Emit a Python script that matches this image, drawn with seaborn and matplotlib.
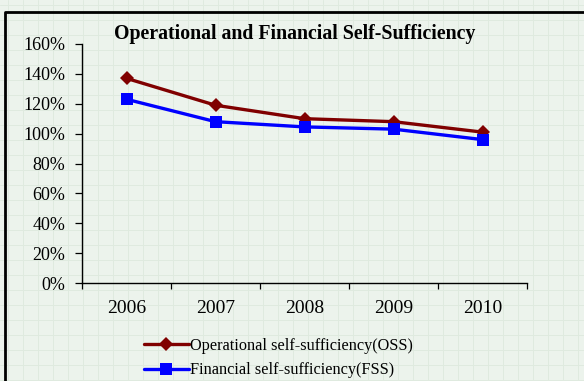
import matplotlib
matplotlib.use("Agg")
import matplotlib.pyplot as plt
from matplotlib.lines import Line2D
from matplotlib.ticker import FixedLocator, PercentFormatter
import seaborn as sns
import pandas as pd

years = ["2006", "2007", "2008", "2009", "2010"]
oss = [137, 119, 110, 108, 101]
fss = [123, 108, 104.5, 103, 96]
oss_label = "Operational self-sufficiency(OSS)"
fss_label = "Financial self-sufficiency(FSS)"
title = "Operational and Financial Self-Sufficiency"
y_ticks = [0, 20, 40, 60, 80, 100, 120, 140, 160]

df = pd.concat([
    pd.DataFrame({"year": years, "value": oss, "series": oss_label}),
    pd.DataFrame({"year": years, "value": fss, "series": fss_label}),
])

sns.set_theme(style="white")
plt.rcParams["font.family"] = ["Liberation Serif", "DejaVu Serif"]
plt.rcParams["text.color"] = "black"
plt.rcParams["xtick.color"] = "black"
plt.rcParams["ytick.color"] = "black"

W, H = 584, 381
bg = "#ecf3ec"
fig = plt.figure(figsize=(W / 100, H / 100), dpi=100, facecolor=bg)

# faint background lattice
for gx in range(8, W, 15):
    fig.add_artist(Line2D([gx / W, gx / W], [0, 1], color="#dfeadf", lw=0.7, zorder=-5))
for gy in range(5, H, 15):
    fig.add_artist(Line2D([0, 1], [1 - gy / H, 1 - gy / H], color="#dfeadf", lw=0.7, zorder=-5))

# outer frame (top and left edges)
fig.add_artist(Line2D([4.5 / W, 4.5 / W, 1.0], [0.0, 1 - 11.5 / H, 1 - 11.5 / H],
                      color="black", lw=2.0, solid_capstyle="butt"))

ax = fig.add_axes([82 / W, (H - 283) / H, (527 - 82) / W, (283 - 44) / H])
ax.set_facecolor("none")

sns.lineplot(
    data=df, x="year", y="value", hue="series", style="series",
    palette={oss_label: "#800000", fss_label: "#0000ff"},
    markers={oss_label: "D", fss_label: "s"},
    dashes=False, linewidth=2.4, markersize=8, markeredgewidth=0,
    sort=False, ax=ax,
)
for ln in ax.lines:
    if ln.get_marker() == "D":
        ln.set_markersize(7)
    elif ln.get_marker() == "s":
        ln.set_markersize(9)

ax.set_xlim(-0.5, 4.5)
ax.set_ylim(0, 160)
ax.yaxis.set_major_locator(FixedLocator(y_ticks))
ax.yaxis.set_major_formatter(PercentFormatter(decimals=0))
ax.set_xticks(range(len(years)))
ax.set_xticklabels(years)
ax.xaxis.set_minor_locator(FixedLocator([i - 0.5 for i in range(len(years) + 1)]))
ax.tick_params(axis="x", which="major", bottom=True, length=0, pad=12, labelsize=14)
ax.tick_params(axis="x", which="minor", bottom=True, length=4, width=0.9,
               color="black", direction="out")
ax.tick_params(axis="y", which="major", left=True, length=5, width=0.9, color="black",
               direction="out", pad=7, labelsize=13)
ax.set_xlabel("")
ax.set_ylabel("")
for s in ["top", "right"]:
    ax.spines[s].set_visible(False)
for s in ["left", "bottom"]:
    ax.spines[s].set_color("black")
    ax.spines[s].set_linewidth(1.0)

fig.text(295 / W, 1 - 34 / H, title, ha="center", va="center",
         fontsize=14.3, fontweight="bold")

handles, labels = ax.get_legend_handles_labels()
if ax.legend_:
    ax.legend_.remove()
leg = fig.legend(handles, labels, loc="upper left", bbox_to_anchor=(136 / W, 1 - 330 / H),
                 frameon=False, fontsize=11.7, handlelength=2.75, handletextpad=0.05,
                 labelspacing=0.5, borderpad=0)
for h in leg.legend_handles:
    h.set_linewidth(2.4)

fig.savefig("out.png", dpi=100, facecolor=bg)
